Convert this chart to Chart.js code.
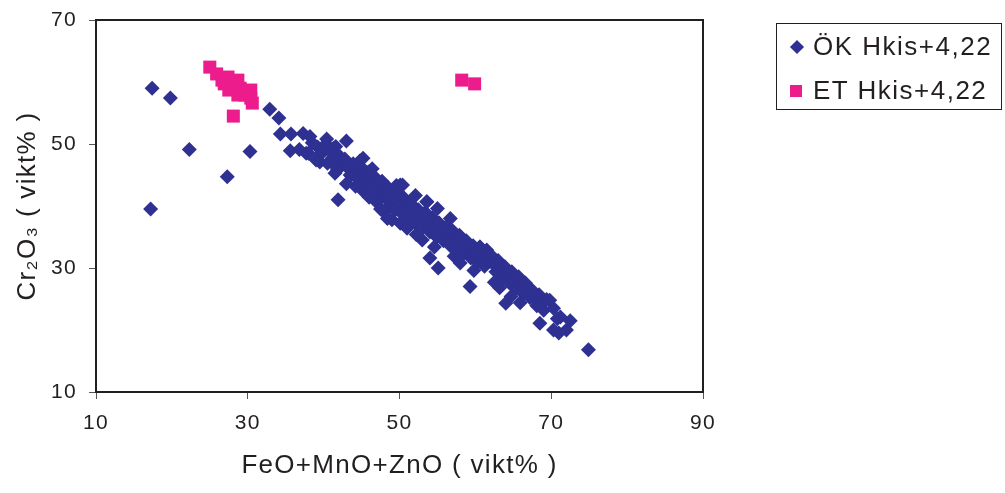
<!DOCTYPE html>
<html>
<head>
<meta charset="utf-8">
<script src="https://cdn.jsdelivr.net/npm/chart.js@4.4.1/dist/chart.umd.min.js"></script>
<style>
  body { margin: 0; background: #fff; }
  #wrap { position: relative; width: 1005px; height: 493px; }
  #legend {
    position: absolute; left: 776px; top: 23px; width: 226px; height: 87px;
    border: 1px solid #231f20; box-sizing: border-box;
    font-family: "Liberation Sans", Arial, sans-serif; font-size: 26px; letter-spacing: 1.5px; color: #231f20;
  }
  .item { position: absolute; left: 0; white-space: nowrap; }
  .item span { position: absolute; left: 36px; top: -16px; }
  .mk { position: absolute; }
</style>
</head>
<body>
<div id="wrap">
  <canvas id="myChart" width="1005" height="493"></canvas>
  <div id="legend">
    <div class="item" style="top:23px"><div class="mk" style="left:15px;top:-5px;width:10px;height:10px;background:#2e3192;transform:rotate(45deg)"></div><span>ÖK Hkis+4,22</span></div>
    <div class="item" style="top:67px"><div class="mk" style="left:13px;top:-6px;width:12px;height:12px;background:#ec1c8c"></div><span>ET Hkis+4,22</span></div>
  </div>
</div>
<script>
// axis ticks
var xTicks = [10, 30, 50, 70, 90];
var yTicks = [10, 30, 50, 70];

// ÖK Hkis+4,22  [FeO+MnO+ZnO, Cr2O3]
var okPoints = [
  [17.4,59.0],[19.8,57.4],[22.3,49.1],[30.3,48.8],[27.3,44.7],[17.2,39.5],
  [32.9,55.6],[34.1,54.2],[34.3,51.6],[35.7,51.6],[37.3,51.7],[35.6,48.9],[36.8,49.1],[37.7,48.5],
  [38.2,51.2],[38.0,48.5],[40.4,50.8],[43.0,50.5],[41.3,49.3],[39.5,47.1],[41.0,47.1],[41.5,45.3],
  [45.2,47.7],[43.5,45.0],[41.9,41.0],[44.8,43.1],[46.1,44.2],[50.1,43.4],[53.6,40.7],[56.7,38.0],
  [60.6,33.4],[54.0,31.6],[55.1,30.0],[63.2,30.2],[61.5,32.9],[59.3,27.0],
  [38.5,50.2],[39.2,49.5],[39.8,48.6],[40.3,50.0],[40.8,48.9],[41.2,47.8],[41.6,49.6],[42.0,48.2],
  [39.0,47.4],[40.5,46.9],[42.4,46.6],[41.8,45.8],[42.8,47.6],[43.3,46.0],[43.6,44.9],
  [43.9,46.8],[44.3,45.6],[44.6,44.4],[45.0,46.2],[45.3,44.9],[45.6,43.6],[45.9,45.5],[46.2,44.0],
  [46.5,42.8],[46.8,44.6],[47.1,43.3],[47.4,41.9],[44.2,43.2],[45.2,42.4],[46.0,41.4],[47.0,40.6],
  [47.7,44.0],[44.8,47.3],[46.4,46.0],[43.0,43.6],
  [47.9,42.5],[48.2,41.2],[48.5,43.0],[48.8,40.2],[49.1,41.8],[49.4,39.3],[49.7,42.3],[50.0,40.6],
  [50.3,38.8],[50.6,41.3],[50.9,39.7],[51.2,37.9],[51.5,40.4],[51.8,38.6],[52.1,41.7],[48.0,39.0],
  [49.0,37.8],[50.1,37.2],[51.0,36.4],[49.6,43.3],[50.4,43.4],[48.4,38.0],[52.3,37.0],[47.5,39.5],
  [52.5,39.4],[52.8,38.0],[53.1,36.6],[53.4,39.0],[53.7,37.4],[54.0,35.8],[54.3,38.1],[54.6,36.5],
  [54.9,35.0],[55.2,37.3],[55.5,35.7],[55.8,34.4],[56.1,36.6],[56.4,35.0],[56.7,33.6],[53.6,40.7],
  [55.0,39.6],[53.0,34.5],[54.6,33.4],[52.2,35.4],[57.0,36.0],
  [57.3,34.6],[57.6,33.2],[57.9,35.3],[58.2,33.7],[58.5,32.4],[58.8,34.4],[59.1,32.9],[59.4,31.6],
  [59.7,33.6],[60.0,32.1],[60.3,30.9],[60.6,33.4],[60.9,31.6],[61.2,30.3],[61.8,31.1],
  [58.0,30.8],[59.8,29.6],[57.2,31.9],[62.1,32.0],
  [62.4,30.6],[62.7,29.4],[63.0,31.2],[63.3,29.8],[63.6,28.4],[63.9,30.2],[64.2,28.8],[64.5,27.6],
  [64.8,29.4],[65.1,27.9],[65.4,26.7],[65.7,28.6],[66.0,27.2],[66.3,25.9],[66.6,27.6],[66.9,26.4],
  [63.2,26.8],[64.7,25.4],[65.9,24.4],[62.5,27.7],[64.0,24.3],[67.2,25.2],
  [67.5,26.4],[67.8,25.1],[68.1,23.9],[68.4,25.7],[68.7,24.4],[69.0,23.2],[69.4,24.9],[69.8,24.8],
  [70.3,23.5],[71.2,22.1],[68.5,21.1],[70.3,20.0],[72.0,20.0],[71.0,19.5],[70.8,21.8],[72.5,21.5],
  [74.9,16.8]
];

// ET Hkis+4,22
var etPoints = [
  [25.0,62.4],[25.9,61.3],[26.6,60.3],[27.4,60.8],[27.8,59.5],[28.7,60.3],[29.0,59.0],[29.4,58.5],
  [30.4,58.7],[30.4,57.4],[28.1,54.5],[28.7,57.9],[29.6,57.9],[26.9,59.7],[27.5,58.7],[30.6,56.6],
  [58.2,60.3],[59.9,59.7]
];

function toXY(list) {
  return list.map(function (p) { return { x: p[0], y: p[1] }; });
}

// frame round the plot area
var plotBox = {
  id: 'plotBox',
  beforeDraw: function (chart) {
    chart.ctx.letterSpacing = '1.3px';
  },
  afterDraw: function (chart) {
    var a = chart.chartArea, ctx = chart.ctx;
    ctx.save();
    ctx.strokeStyle = '#231f20';
    ctx.lineWidth = 2;
    ctx.strokeRect(a.left, a.top, a.right - a.left, a.bottom - a.top);
    ctx.restore();
  }
};

var font = "'Liberation Sans', Arial, sans-serif";
var dark = '#231f20';

var ctx = document.getElementById('myChart').getContext('2d');
var myChart = new Chart(ctx, {
  type: 'scatter',
  data: {
    datasets: [{
      label: 'ÖK Hkis+4,22',
      data: toXY(okPoints),
      pointStyle: 'rectRot',
      pointRadius: 7.5,
      pointBorderWidth: 0,
      backgroundColor: '#2e3192',
      borderColor: '#2e3192',
      clip: false
    }, {
      label: 'ET Hkis+4,22',
      data: toXY(etPoints),
      pointStyle: 'rect',
      pointRadius: 9.2,
      pointBorderWidth: 0,
      backgroundColor: '#ec1c8c',
      borderColor: '#ec1c8c',
      clip: false
    }]
  },
  options: {
    responsive: false,
    animation: false,
    layout: { padding: { top: 20, right: 302, left: 0, bottom: 0 } },
    plugins: { legend: { display: false }, tooltip: { enabled: false } },
    scales: {
      x: {
        type: 'linear',
        min: xTicks[0], max: xTicks[xTicks.length - 1],
        afterBuildTicks: function (s) { s.ticks = xTicks.map(function (v) { return { value: v }; }); },
        afterFit: function (s) { s.height = 101; s.paddingLeft = 0; s.paddingRight = 0; },
        grid: { drawOnChartArea: false, tickLength: 7, color: '#555', lineWidth: 1 },
        border: { color: dark, width: 2 },
        ticks: { color: dark, padding: 12, font: { family: font, size: 21 } },
        title: { display: true, text: 'FeO+MnO+ZnO ( vikt% )', color: dark, padding: { top: 0, bottom: 12 }, font: { family: font, size: 26 } }
      },
      y: {
        type: 'linear',
        min: yTicks[0], max: yTicks[yTicks.length - 1],
        afterBuildTicks: function (s) { s.ticks = yTicks.map(function (v) { return { value: v }; }); },
        afterFit: function (s) { s.width = 96; s.paddingTop = 0; s.paddingBottom = 0; },
        grid: { drawOnChartArea: false, tickLength: 7, color: '#555', lineWidth: 1 },
        border: { color: dark, width: 2 },
        ticks: { color: dark, padding: 12, font: { family: font, size: 21 } },
        title: { display: true, text: 'Cr₂O₃ ( vikt% )', color: dark, padding: { top: 12, bottom: 0 }, font: { family: font, size: 26 } }
      }
    }
  },
  plugins: [plotBox]
});
</script>
</body>
</html>
